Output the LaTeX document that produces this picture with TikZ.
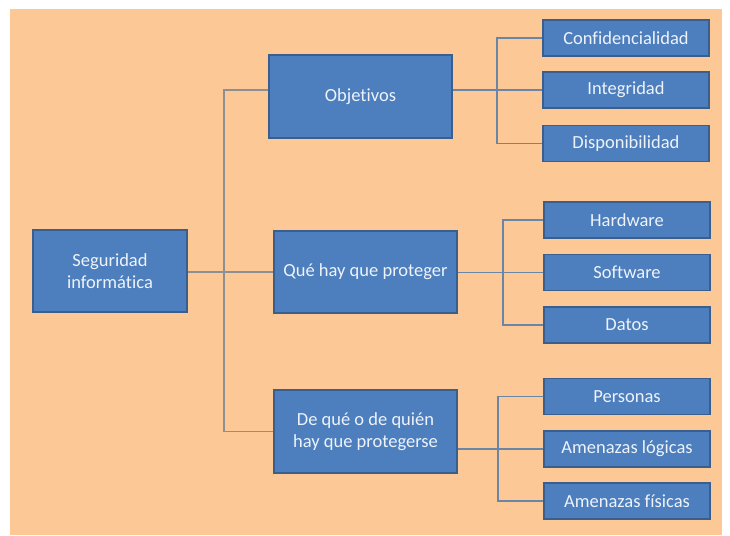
\documentclass[tikz,border=0pt]{standalone}
\usepackage{fontspec}
\setmainfont{Carlito}[Ligatures={NoCommon}]
\definecolor{pagebg}{HTML}{FFFFFF}
\definecolor{peach}{HTML}{FBC896}
\definecolor{boxfill}{HTML}{4D7EBD}
\definecolor{boxedge}{HTML}{3A5F8E}
\definecolor{boxtext}{HTML}{EEF3FA}
\definecolor{linkgray}{HTML}{8E8F92}
\definecolor{linkblue}{HTML}{6A85A6}
\begin{document}
\begin{tikzpicture}[x=1pt,y=-1pt,
  box/.style={draw=boxedge, line width=1.4pt, fill=boxfill, text=boxtext,
    align=center, inner sep=0pt, font=\fontsize{18.5}{21.8}\selectfont},
  mainbox/.style={box, minimum width=183pt, minimum height=83pt},
  leafbox/.style={box, minimum width=166pt, minimum height=36pt},
  trunk/.style={draw=linkgray, line width=1.2pt},
  branch/.style={draw=linkblue, line width=1.2pt}]

  % page and background panel
  \fill[pagebg] (0,0) rectangle (730,535);
  \fill[peach] (10,9) rectangle (722,535);
  \useasboundingbox (0,0) rectangle (730,535);

  % root
  \node[box, minimum width=154pt, minimum height=82pt] (root) at (110,271)
    {Seguridad\\informática};

  % second level
  \node[mainbox] (obj) at (360.5,96.5) {Objetivos};
  \node[mainbox, minimum height=82pt] (que) at (365.5,272) {Qué hay que proteger};
  \node[mainbox] (deq) at (365.5,431.5) {De qué o de quién\\hay que protegerse};

  % leaves
  \node[leafbox] (conf) at (626,38)    {Confidencialidad};
  \node[leafbox] (integ) at (626,90)   {Integridad};
  \node[leafbox] (disp) at (626,143.5) {Disponibilidad};
  \node[leafbox] (hw) at (627,220)     {Hardware};
  \node[leafbox] (sw) at (627,272.5)   {Software};
  \node[leafbox] (dat) at (627,325)    {Datos};
  \node[leafbox] (pers) at (627,396.5) {Personas};
  \node[leafbox] (logi) at (627,449)   {Amenazas lógicas};
  \node[leafbox] (fisi) at (627,501)   {Amenazas físicas};

  % bus positions
  \coordinate (busA) at (224,0);
  \coordinate (busB) at (497,0);
  \coordinate (busC) at (503,0);
  \coordinate (busD) at (498,0);

  % root to second level
  \draw[trunk] (root.east |- que.west) -- (que.west);
  \draw[trunk] ([yshift=6.5pt]obj.west) -| (busA |- deq.west) -- (deq.west);

  % Objetivos to its leaves
  \draw[branch] (obj.east |- integ.west) -- (integ.west);
  \draw[branch] (conf.west) -| (busB |- disp.west) -- (disp.west);

  % Qué hay que proteger to its leaves
  \draw[branch] (que.east |- sw.west) -- (sw.west);
  \draw[branch] (hw.west) -| (busC |- dat.west) -- (dat.west);

  % De qué o de quién to its leaves
  \draw[branch] (deq.east |- logi.west) -- (logi.west);
  \draw[branch] (pers.west) -| (busD |- fisi.west) -- (fisi.west);
\end{tikzpicture}
\end{document}
